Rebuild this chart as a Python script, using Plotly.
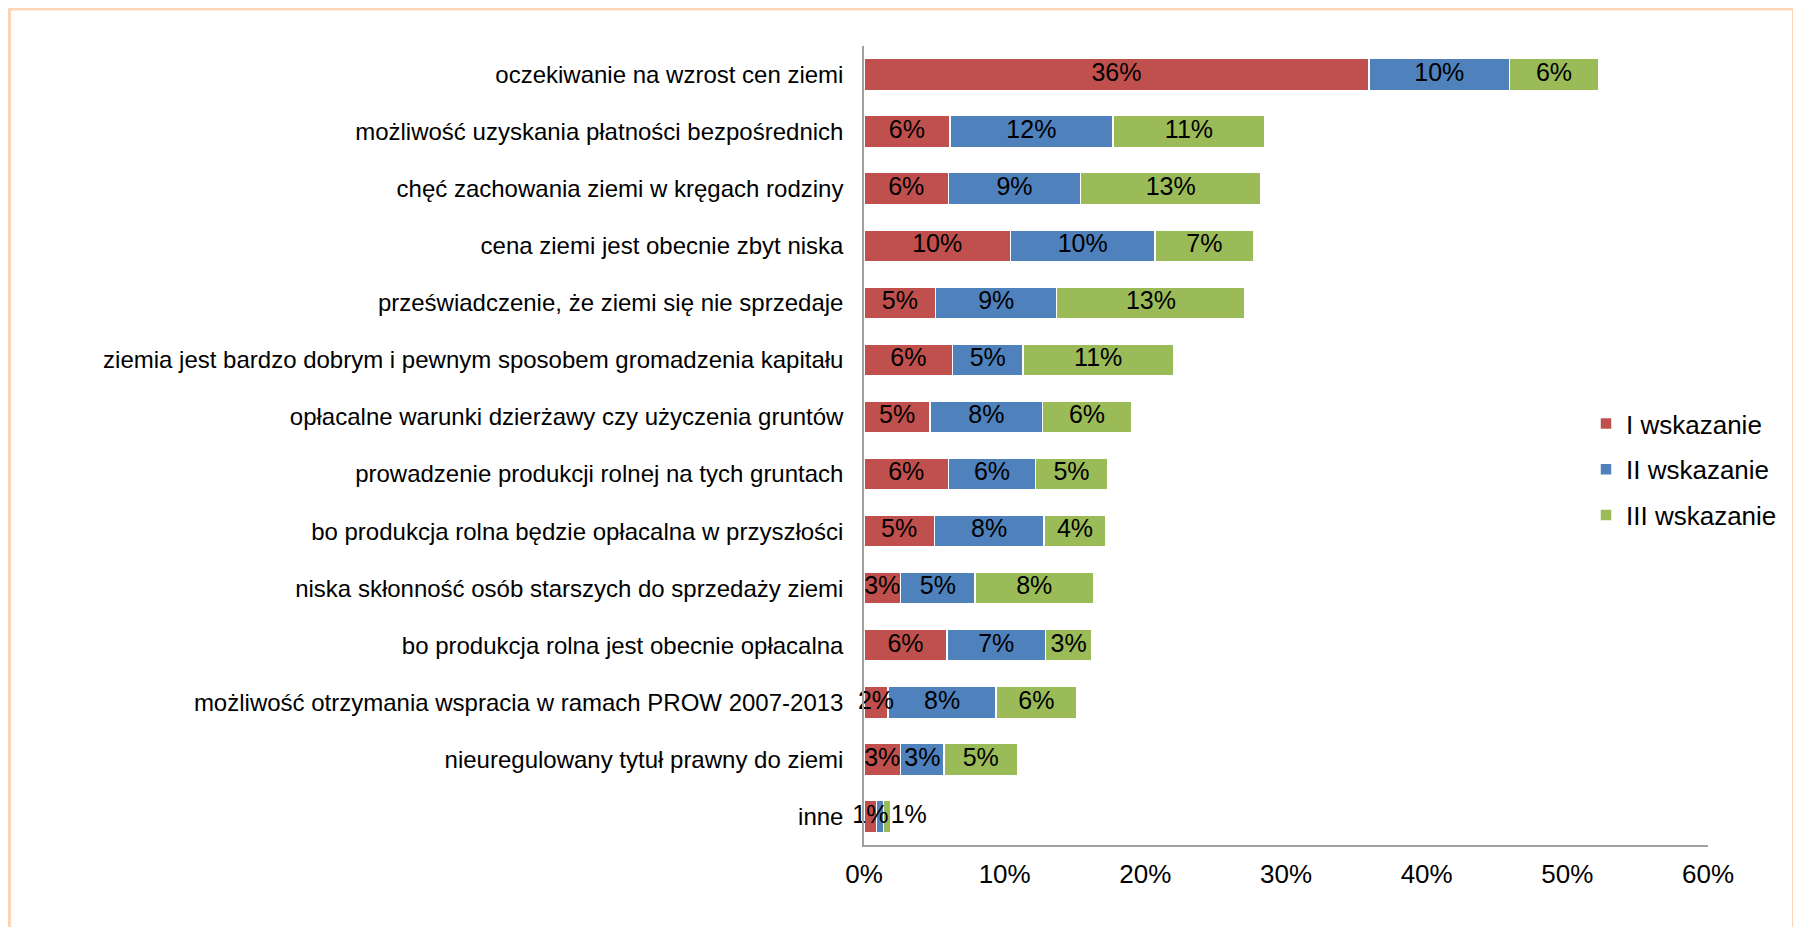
import plotly.graph_objects as go

categories = [
    "oczekiwanie na wzrost cen ziemi",
    "możliwość uzyskania płatności bezpośrednich",
    "chęć zachowania ziemi w kręgach rodziny",
    "cena ziemi jest obecnie zbyt niska",
    "przeświadczenie, że ziemi się nie sprzedaje",
    "ziemia jest bardzo dobrym i pewnym sposobem gromadzenia kapitału",
    "opłacalne warunki dzierżawy czy użyczenia gruntów",
    "prowadzenie produkcji rolnej na tych gruntach",
    "bo produkcja rolna będzie opłacalna w przyszłości",
    "niska skłonność osób starszych do sprzedaży ziemi",
    "bo produkcja rolna jest obecnie opłacalna",
    "możliwość otrzymania wspracia w ramach PROW 2007-2013",
    "nieuregulowany tytuł prawny do ziemi",
    "inne",
]

series_names = ["I wskazanie", "II wskazanie", "III wskazanie"]
wskazanie_I = [35.9, 6.1, 6.0, 10.4, 5.1, 6.3, 4.7, 6.0, 5.0, 2.6, 5.9, 1.7, 2.6, 0.9]
wskazanie_II = [10.0, 11.6, 9.4, 10.3, 8.6, 5.0, 8.0, 6.2, 7.8, 5.3, 7.0, 7.7, 3.1, 0.5]
wskazanie_III = [6.3, 10.8, 12.8, 7.0, 13.4, 10.7, 6.3, 5.1, 4.4, 8.4, 3.3, 5.7, 5.2, 0.5]

tick_values = [0, 10, 20, 30, 40, 50, 60]
tick_labels = [f"{v}%" for v in tick_values]

colors = ["#C0504D", "#4F81BD", "#9BBB59"]
FONT = "Arial, Liberation Sans, sans-serif"

# page has an 8px body margin; figure sized to fill the rest
W, H = 1793, 919
ML, MR, MT, MB = 856, 93, 38, 82

fig = go.Figure()
all_series = [wskazanie_I, wskazanie_II, wskazanie_III]
n = len(categories)

# bars
for i, (name, vals) in enumerate(zip(series_names, all_series)):
    fig.add_trace(go.Bar(
        y=categories, x=vals, name=name, orientation="h",
        marker=dict(color=colors[i], line=dict(color="white", width=1.5)),
        legendgroup=name, hoverinfo="skip",
    ))

# data labels drawn above all bars
base = [0.0] * n
for i, (name, vals) in enumerate(zip(series_names, all_series)):
    xs, texts, pos = [], [], []
    for k, v in enumerate(vals):
        label = f"{v:.0f}%" if v >= 1 or i != 2 else "1%"
        if i == 1 and k == n - 1:
            label = ""
        if i == 2 and k == n - 1:
            xs.append(base[k] + v)
            pos.append("middle right")
        else:
            xs.append(base[k] + v / 2)
            pos.append("middle center")
        texts.append(label)
        base[k] += v
    fig.add_trace(go.Scatter(
        x=xs, y=categories, mode="text", text=texts, textposition=pos,
        textfont=dict(family=FONT, size=25, color="black"),
        showlegend=False, hoverinfo="skip", cliponaxis=False,
    ))

def px_to_paper_x(px):
    return (px - ML) / (W - ML - MR)

def px_to_paper_y(py):
    return (H - MB - py) / (H - MT - MB)

fig.add_shape(type="rect", xref="paper", yref="paper",
              x0=px_to_paper_x(1), x1=px_to_paper_x(1786),
              y0=px_to_paper_y(940), y1=px_to_paper_y(0.5),
              line=dict(color="#FBD5B5", width=4), fillcolor="rgba(0,0,0,0)",
              layer="below")

fig.update_layout(
    width=W, height=H, autosize=False,
    margin=dict(l=ML, r=MR, t=MT, b=MB, pad=0),
    barmode="stack", bargap=0.44,
    plot_bgcolor="white", paper_bgcolor="white",
    font=dict(family=FONT, color="black"),
    legend=dict(x=px_to_paper_x(1578), y=px_to_paper_y(392), xanchor="left", yanchor="top",
                font=dict(family=FONT, size=26, color="black"),
                traceorder="grouped", tracegroupgap=9, bgcolor="rgba(0,0,0,0)"),
    xaxis=dict(range=[0, 60], tickvals=tick_values, ticktext=tick_labels,
               showgrid=False, zeroline=False, showline=True,
               linecolor="#A0A0A0", linewidth=1.5, ticks="",
               tickfont=dict(family=FONT, size=26, color="black"),
               ticklabelstandoff=5, fixedrange=True),
    yaxis=dict(range=[n - 0.5, -0.5], type="category", showgrid=False, zeroline=False,
               showline=True, linecolor="#A0A0A0", linewidth=1.5, ticks="",
               tickfont=dict(family=FONT, size=24, color="black"),
               ticklabelstandoff=14, fixedrange=True),
    showlegend=True,
)

fig.write_html("out.html")
